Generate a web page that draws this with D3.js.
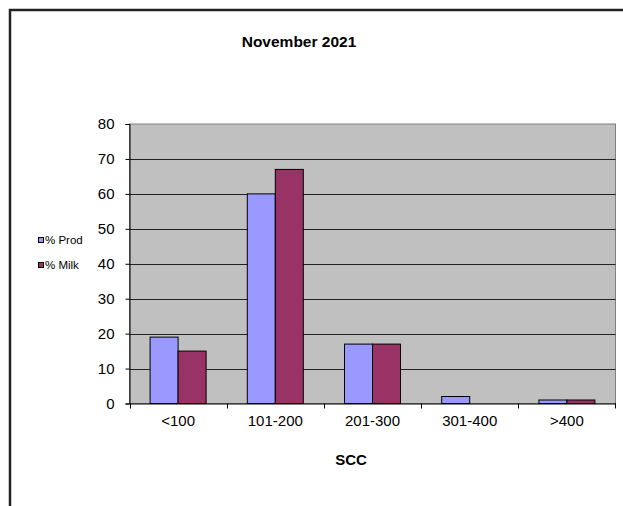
<!DOCTYPE html>
<html>
<head>
<meta charset="utf-8">
<script src="https://cdn.jsdelivr.net/npm/d3@7"></script>
<style>
  body { margin: 0; background: #fff; }
  svg text { font-family: "Liberation Sans", Arial, sans-serif; fill: #000; }
</style>
</head>
<body>
<svg id="chart" width="623" height="506"></svg>
<script>
const categories = ["<100", "101-200", "201-300", "301-400", ">400"];
const seriesNames = ["% Prod", "% Milk"];
const prodValues = [19, 60, 17, 2, 1];
const milkValues = [15, 67, 17, 0, 1];
const yTicks = [0, 10, 20, 30, 40, 50, 60, 70, 80];
const colors = ["#9999ff", "#993366"];

const svg = d3.select('#chart');

// outer frame (runs off the right and bottom edges)
svg.append('path')
  .attr('d', 'M10,506 V10 H640')
  .attr('fill', 'none')
  .attr('stroke', '#222')
  .attr('stroke-width', 2.5);

const plotL = 129.5, plotR = 615.5, plotT = 124, plotB = 403.5;

const x = d3.scaleBand().domain(categories).range([plotL, plotR]);
const y = d3.scaleLinear().domain([0, 80]).range([plotB, plotT]);
const inner = d3.scaleBand().domain(seriesNames).range([0, 56]);

// plot background
svg.append('rect')
  .attr('x', plotL).attr('y', plotT)
  .attr('width', plotR - plotL).attr('height', plotB - plotT)
  .attr('fill', '#c0c0c0')
  .attr('stroke', '#808080');

// gridlines
svg.append('g')
  .selectAll('line')
  .data(yTicks.filter(d => d > 0 && d < 80))
  .join('line')
  .attr('x1', plotL).attr('x2', plotR)
  .attr('y1', d => Math.round(y(d)) + 0.5).attr('y2', d => Math.round(y(d)) + 0.5)
  .attr('stroke', '#222');

// bars
const series = [prodValues, milkValues];
series.forEach((vals, si) => {
  svg.append('g')
    .selectAll('rect')
    .data(vals.map((v, i) => ({ cat: categories[i], v })).filter(d => d.v > 0))
    .join('rect')
    .attr('x', d => x(d.cat) + x.bandwidth() / 2 - 28 + inner(seriesNames[si]))
    .attr('y', d => y(d.v))
    .attr('width', inner.bandwidth())
    .attr('height', d => y(0) - y(d.v))
    .attr('fill', colors[si])
    .attr('stroke', '#000')
    .attr('stroke-width', 1);
});

// y axis
const yAxis = svg.append('g')
  .attr('transform', `translate(${plotL},0)`)
  .call(d3.axisLeft(y).tickValues(yTicks).tickSize(4).tickPadding(11));
yAxis.select('.domain').attr('stroke', '#000');
yAxis.selectAll('line').attr('stroke', '#000');
yAxis.selectAll('text').style('font-size', '15px')
  .style('font-family', '"Liberation Sans", Arial, sans-serif');

// x axis
const xAxis = svg.append('g')
  .attr('transform', `translate(0,${plotB})`)
  .call(d3.axisBottom(x).tickSizeOuter(0).tickSize(0).tickPadding(12));
xAxis.select('.domain').attr('stroke', '#000');
xAxis.selectAll('text').style('font-size', '15px')
  .style('font-family', '"Liberation Sans", Arial, sans-serif');
// category separator ticks
svg.append('g')
  .selectAll('line')
  .data(categories.concat(['end']))
  .join('line')
  .attr('x1', (d, i) => i < categories.length ? Math.round(x(d)) + 0.5 : plotR)
  .attr('x2', (d, i) => i < categories.length ? Math.round(x(d)) + 0.5 : plotR)
  .attr('y1', plotB).attr('y2', plotB + 5)
  .attr('stroke', '#000');

// title
svg.append('text')
  .attr('x', 299).attr('y', 47)
  .attr('text-anchor', 'middle')
  .style('font-size', '15.5px').style('font-weight', 'bold')
  .text('November 2021');

// x label
svg.append('text')
  .attr('x', 351).attr('y', 465)
  .attr('text-anchor', 'middle')
  .style('font-size', '15px').style('font-weight', 'bold')
  .text('SCC');

// legend
const legend = svg.append('g');
seriesNames.forEach((name, i) => {
  const ly = 240 + i * 25;
  legend.append('rect')
    .attr('x', 38.5).attr('y', ly - 2.5)
    .attr('width', 5).attr('height', 5)
    .attr('fill', colors[i]).attr('stroke', '#000');
  legend.append('text')
    .attr('x', 45).attr('y', ly + 4)
    .style('font-size', '11.5px')
    .text(name);
});
</script>
</body>
</html>
